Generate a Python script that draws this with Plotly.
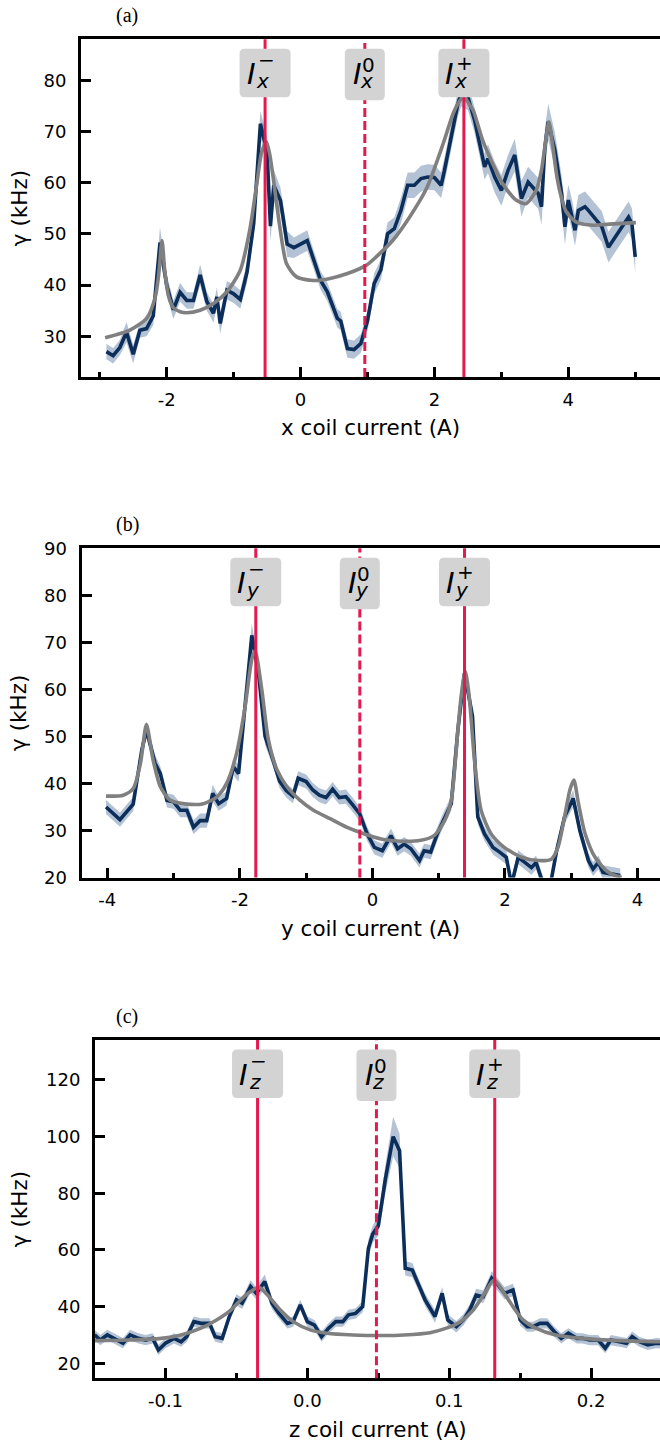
import plotly.graph_objects as go

# ---------------- panel (a): x coil ----------------
xa = [-2.9, -2.8, -2.7, -2.6, -2.5, -2.4, -2.3, -2.2, -2.1, -2.0,
      -1.9, -1.8, -1.7, -1.6, -1.5, -1.4, -1.3, -1.25, -1.2, -1.1,
      -1.0, -0.9, -0.8, -0.7, -0.6, -0.5, -0.45, -0.4, -0.3, -0.2,
      -0.1, 0.0, 0.1, 0.2, 0.3, 0.4, 0.5, 0.55, 0.6, 0.7,
      0.8, 0.9, 1.0, 1.1, 1.2, 1.3, 1.4, 1.5, 1.6, 1.7,
      1.8, 1.9, 2.0, 2.1, 2.15, 2.25, 2.35, 2.4, 2.5, 2.6,
      2.7, 2.75, 2.8, 2.9, 3.0, 3.1, 3.2, 3.25, 3.3, 3.4,
      3.5, 3.55, 3.6, 3.65, 3.7, 3.8, 3.9, 3.95, 4.0, 4.05,
      4.1, 4.15, 4.25, 4.3, 4.4, 4.5, 4.6, 4.7, 4.8, 4.9,
      4.95, 5.0]
ya = [27.0, 26.2, 27.8, 30.8, 26.5, 31.2, 31.5, 34.0, 48.3, 40.0,
      35.2, 38.6, 37.0, 37.0, 42.0, 36.8, 34.5, 37.7, 32.5, 39.0,
      38.3, 37.2, 42.5, 52.0, 71.5, 66.0, 51.5, 59.5, 56.5, 48.0,
      47.3, 48.0, 48.7, 44.8, 40.9, 38.7, 35.1, 33.5, 33.0, 27.6,
      27.4, 28.6, 33.0, 40.3, 43.0, 50.0, 51.0, 54.6, 59.5, 59.5,
      60.8, 61.1, 61.0, 59.5, 62.4, 68.9, 75.4, 77.4, 76.7, 72.2,
      65.7, 63.1, 64.7, 61.1, 58.5, 62.4, 65.4, 61.1, 56.9, 60.1,
      58.5, 57.9, 55.3, 67.0, 71.9, 66.3, 57.9, 51.4, 56.6, 54.0,
      50.7, 54.6, 55.3, 54.6, 53.0, 51.4, 47.4, 49.4, 51.4, 53.3,
      52.0, 45.5]
ea = [1.5, 1.5, 1.5, 2.0, 1.8, 1.5, 1.5, 1.8, 3.0, 2.0,
      1.8, 1.8, 1.6, 1.6, 2.0, 1.8, 1.8, 1.8, 2.0, 1.8,
      1.8, 1.8, 2.0, 2.5, 2.5, 3.0, 3.0, 3.0, 2.5, 2.5,
      2.0, 2.0, 2.0, 1.8, 1.8, 1.8, 1.8, 1.8, 1.8, 1.8,
      1.8, 1.8, 2.0, 2.0, 2.0, 2.2, 2.2, 2.5, 2.5, 2.5,
      2.5, 2.5, 2.5, 2.5, 2.5, 2.5, 2.5, 2.5, 2.5, 2.5,
      2.5, 2.5, 2.8, 3.0, 3.0, 3.0, 3.2, 3.5, 3.5, 3.0,
      3.0, 3.0, 3.5, 3.5, 3.5, 3.5, 3.5, 3.5, 3.0, 3.0,
      3.0, 3.0, 3.0, 3.0, 3.0, 3.0, 3.0, 3.0, 3.0, 3.0,
      3.0, 3.0]
fit_xa = [-2.92, -2.55, -2.30, -2.17, -2.12, -2.07, -2.03, -1.97, -1.90, -1.80,
          -1.70, -1.50, -1.30, -1.10, -0.90, -0.76, -0.66, -0.58, -0.51, -0.46,
          -0.41, -0.31, -0.21, -0.06, 0.19, 0.44, 0.69, 0.985, 1.13, 1.38,
          1.63, 1.88, 2.13, 2.28, 2.36, 2.44, 2.52, 2.58, 2.72, 2.87,
          3.02, 3.22, 3.37, 3.52, 3.60, 3.65, 3.71, 3.77, 3.82, 3.87,
          3.97, 4.12, 4.37, 4.61, 5.01]
fit_ya = [29.7, 31.2, 33.5, 37.7, 42.0, 48.7, 43.0, 37.7, 35.6, 34.8,
          34.6, 35.1, 36.4, 38.7, 42.9, 50.7, 59.2, 66.0, 68.0, 65.5,
          61.1, 51.4, 44.2, 41.6, 40.9, 41.3, 42.2, 43.9, 45.5, 48.75,
          53.3, 58.8, 67.6, 73.5, 75.6, 76.8, 75.3, 74.1, 68.3, 63.7,
          59.8, 56.6, 55.9, 58.5, 62.5, 67.0, 71.9, 67.0, 62.0, 58.5,
          54.3, 52.3, 51.7, 51.9, 52.2]
lines_a = [-0.53, 0.96, 2.44]

# ---------------- panel (b): y coil ----------------
xb = [-4.02, -3.81, -3.61, -3.48, -3.41, -3.28, -3.20, -3.10, -3.0, -2.9,
      -2.8, -2.7, -2.6, -2.5, -2.41, -2.32, -2.2, -2.1, -2.02, -1.92,
      -1.82, -1.72, -1.62, -1.5, -1.4, -1.3, -1.2, -1.12, -1.0, -0.9,
      -0.8, -0.7, -0.6, -0.5, -0.4, -0.3, -0.19, -0.08, 0.03, 0.15,
      0.28, 0.38, 0.48, 0.58, 0.71, 0.78, 0.88, 0.98, 1.09, 1.19,
      1.29, 1.39, 1.51, 1.59, 1.69, 1.82, 1.92, 2.02, 2.10, 2.20,
      2.30, 2.40, 2.47, 2.58, 2.68, 2.78, 2.90, 3.03, 3.13, 3.26,
      3.33, 3.41, 3.48, 3.61, 3.74]
yb = [35.0, 32.3, 35.6, 47.1, 51.4, 44.3, 42.1, 36.4, 36.1, 34.3,
      34.3, 30.7, 32.1, 32.1, 37.9, 35.7, 36.8, 43.6, 42.1, 57.1,
      71.5, 63.6, 50.0, 45.0, 40.5, 38.5, 37.3, 41.1, 40.4, 38.6,
      37.5, 37.0, 38.8, 37.0, 37.2, 35.5, 33.5, 29.3, 26.4, 25.7,
      28.9, 26.1, 27.1, 26.1, 23.6, 25.7, 25.4, 29.3, 32.9, 35.7,
      51.4, 63.5, 54.3, 32.9, 29.3, 26.4, 25.4, 24.3, 18.5, 24.3,
      23.2, 22.1, 23.2, 18.5, 18.0, 25.7, 32.9, 36.8, 30.0, 23.6,
      21.8, 23.2, 21.1, 20.7, 20.4]
eb = [1.5, 1.5, 1.5, 1.8, 1.8, 1.8, 1.5, 1.5, 1.5, 1.5,
      1.5, 1.5, 1.5, 1.5, 1.8, 1.5, 1.5, 1.8, 1.8, 2.0,
      2.5, 2.0, 1.8, 1.5, 1.5, 1.5, 1.5, 1.5, 1.5, 1.5,
      1.5, 1.5, 1.5, 1.5, 1.5, 1.5, 1.5, 1.5, 1.5, 1.5,
      1.5, 1.5, 1.5, 1.5, 1.5, 1.5, 1.5, 1.5, 1.5, 1.5,
      1.8, 2.0, 1.8, 1.5, 1.5, 1.5, 1.5, 1.5, 1.5, 1.5,
      1.5, 1.5, 1.5, 1.5, 1.5, 1.5, 1.5, 1.8, 1.5, 1.5,
      1.5, 1.5, 1.5, 1.5, 1.5]
fit_xb = [-4.02, -3.76, -3.61, -3.50, -3.41, -3.31, -3.20, -3.05, -2.80, -2.55,
          -2.35, -2.20, -2.05, -1.92, -1.82, -1.77, -1.67, -1.57, -1.44, -1.29,
          -1.09, -0.89, -0.64, -0.39, -0.15, 0.13, 0.43, 0.73, 0.93, 1.09,
          1.19, 1.29, 1.34, 1.40, 1.46, 1.54, 1.64, 1.79, 1.99, 2.25,
          2.50, 2.70, 2.80, 2.90, 2.98, 3.04, 3.11, 3.21, 3.36, 3.56,
          3.76]
fit_yb = [37.3, 37.5, 38.9, 44.3, 52.5, 45.0, 39.3, 36.4, 35.6, 35.7,
          37.1, 40.0, 46.4, 56.4, 66.4, 68.2, 60.0, 49.3, 42.9, 39.3,
          36.4, 34.3, 32.5, 30.7, 29.4, 28.2, 27.7, 27.9, 28.9, 32.1,
          36.4, 51.4, 58.6, 63.9, 58.6, 45.0, 34.3, 29.3, 26.4, 24.3,
          23.6, 23.9, 26.4, 32.9, 38.6, 40.7, 35.7, 29.3, 24.3, 21.1,
          20.0]
lines_b = [-1.76, -0.19, 1.39]

# ---------------- panel (c): z coil ----------------
xc = [-0.150, -0.146, -0.141, -0.136, -0.130, -0.125, -0.119, -0.114, -0.109, -0.105,
      -0.100, -0.094, -0.089, -0.085, -0.080, -0.075, -0.069, -0.065, -0.060, -0.055,
      -0.050, -0.046, -0.040, -0.036, -0.030, -0.025, -0.020, -0.014, -0.010, -0.005,
      0.000, 0.005, 0.010, 0.015, 0.020, 0.025, 0.029, 0.034, 0.039, 0.043,
      0.046, 0.050, 0.055, 0.0605, 0.065, 0.069, 0.074, 0.078, 0.083, 0.090,
      0.095, 0.099, 0.105, 0.110, 0.1145, 0.119, 0.124, 0.130, 0.1345, 0.139,
      0.145, 0.150, 0.155, 0.159, 0.164, 0.169, 0.174, 0.179, 0.184, 0.190,
      0.194, 0.199, 0.205, 0.210, 0.214, 0.220, 0.225, 0.229, 0.234, 0.240,
      0.246, 0.250]
yc = [30.0, 28.2, 30.0, 28.8, 27.1, 30.0, 28.8, 28.2, 28.8, 24.7,
      27.1, 28.8, 27.6, 29.4, 34.7, 34.1, 34.1, 29.4, 28.8, 36.5,
      42.4, 41.2, 47.1, 44.7, 48.8, 41.2, 37.6, 34.1, 34.7, 40.6,
      34.7, 33.5, 29.4, 32.4, 34.7, 34.7, 37.1, 37.6, 40.0, 60.5,
      65.5, 68.5, 85.0, 100.0, 95.0, 53.5, 52.9, 48.2, 42.4, 36.5,
      44.7, 35.3, 32.9, 35.3, 38.8, 44.1, 43.5, 50.0, 47.6, 44.7,
      45.9, 35.3, 32.9, 32.9, 34.1, 34.1, 31.2, 28.8, 30.6, 28.8,
      28.8, 28.2, 28.2, 25.3, 28.2, 27.6, 27.1, 29.4, 27.6, 26.5,
      27.1, 27.0]
ec = [1.8, 1.8, 1.8, 1.8, 1.8, 1.8, 1.8, 1.8, 1.8, 1.8,
      1.8, 1.8, 1.8, 1.8, 1.8, 1.8, 1.8, 1.8, 1.8, 1.8,
      2.0, 2.0, 2.2, 2.2, 2.5, 2.0, 1.8, 1.8, 1.8, 1.8,
      1.8, 1.8, 1.8, 1.8, 1.8, 1.8, 1.8, 1.8, 2.0, 3.0,
      3.0, 3.5, 5.0, 7.0, 6.0, 2.5, 2.5, 2.2, 2.2, 2.2,
      2.2, 2.0, 2.0, 2.0, 2.0, 2.2, 2.2, 2.5, 2.2, 2.2,
      2.2, 2.0, 1.8, 1.8, 1.8, 1.8, 1.8, 1.8, 1.8, 1.8,
      1.8, 1.8, 1.8, 1.8, 1.8, 1.8, 1.8, 1.8, 1.8, 1.8,
      1.8, 1.8]
fit_xc = [-0.150, -0.127, -0.103, -0.089, -0.075, -0.064, -0.054, -0.047, -0.040, -0.034,
          -0.026, -0.019, -0.010, 0.002, 0.014, 0.032, 0.054, 0.068, 0.0865, 0.098,
          0.108, 0.117, 0.125, 0.1315, 0.138, 0.145, 0.152, 0.161, 0.175, 0.194,
          0.220, 0.250]
fit_yc = [28.0, 28.2, 28.8, 30.0, 32.4, 35.3, 38.8, 42.4, 45.3, 46.8,
          42.9, 38.8, 34.7, 31.8, 30.6, 30.0, 29.8, 30.0, 30.8, 32.4,
          34.7, 38.8, 44.7, 49.4, 45.3, 40.0, 35.3, 32.4, 30.0, 28.8,
          28.0, 27.6]
lines_c = [-0.0351, 0.0487, 0.1321]

# ticks
xticks_ab = [-4, -2, 0, 2, 4]
xticklabels_ab = ["-4", "-2", "0", "2", "4"]
xminor_ab = [-5, -3, -1, 1, 3, 5]
xticks_c = [-0.1, 0.0, 0.1, 0.2]
xticklabels_c = ["-0.1", "0.0", "0.1", "0.2"]
xminor_c = [-0.15, -0.05, 0.05, 0.15, 0.25]
yticks_a = [30, 40, 50, 60, 70, 80]
yticks_b = [20, 30, 40, 50, 60, 70, 80, 90]
yticks_c = [20, 40, 60, 80, 100, 120]

coil_names = ["x", "y", "z"]
label_kinds = ["−", "0", "+"]
panel_tags = ["(a)", "(b)", "(c)"]
ytitle = "γ (kHz)"

NAVY = "#0c2e5b"
BAND = "#b3c2d4"
GRAY = "#808080"
RED = "#e41a4f"
BOXC = "#d3d3d3"
FONT = "DejaVu Sans"

W, H = 660, 1442
# plot-area geometry in pixels (left, top, bottom)
geo = [(81, 39.3, 377.0), (81.5, 548.3, 877.5), (95, 1040.0, 1378.3)]
xranges = [[-3.28, 5.37], [-4.39, 4.34], [-0.1497, 0.2486]]
yranges = [[22.05, 88.0], [20, 90], [14.7, 134.1]]

fig = go.Figure()

panels = [
    (xa, ya, ea, fit_xa, fit_ya, lines_a, yticks_a, xticks_ab, xticklabels_ab, xminor_ab),
    (xb, yb, eb, fit_xb, fit_yb, lines_b, yticks_b, xticks_ab, xticklabels_ab, xminor_ab),
    (xc, yc, ec, fit_xc, fit_yc, lines_c, yticks_c, xticks_c, xticklabels_c, xminor_c),
]

shapes = []
annotations = []

for i, (px, py, pe, fx, fy, lns, yt, xt, xtl, xmn) in enumerate(panels):
    k = "" if i == 0 else str(i + 1)
    xr, yr = "x" + k, "y" + k
    up = [v + e for v, e in zip(py, pe)]
    lo = [v - e for v, e in zip(py, pe)]
    fig.add_trace(go.Scatter(x=px, y=up, mode="lines", line=dict(width=0, color=BAND),
                             hoverinfo="skip", showlegend=False, xaxis=xr, yaxis=yr))
    fig.add_trace(go.Scatter(x=px, y=lo, mode="lines", line=dict(width=0, color=BAND),
                             fill="tonexty", fillcolor=BAND, hoverinfo="skip",
                             showlegend=False, xaxis=xr, yaxis=yr))
    fig.add_trace(go.Scatter(x=px, y=py, mode="lines", line=dict(width=3.6, color=NAVY),
                             showlegend=False, xaxis=xr, yaxis=yr))
    fig.add_trace(go.Scatter(x=fx, y=fy, mode="lines",
                             line=dict(width=3.6, color=GRAY, shape="spline", smoothing=0.7),
                             showlegend=False, xaxis=xr, yaxis=yr))

    left, top, bot = geo[i]
    xdom = [left / W, 1.0]
    ydom = [1 - bot / H, 1 - top / H]
    common = dict(showline=True, linewidth=3, linecolor="black", showgrid=False,
                  zeroline=False, ticks="inside", ticklen=10, tickwidth=2.5,
                  tickcolor="black", automargin=False,
                  tickfont=dict(family=FONT, size=18, color="black"))
    fig.layout["xaxis" + k] = dict(common, domain=xdom, range=xranges[i], anchor=yr,
                                   mirror=True, tickmode="array", tickvals=xt, ticktext=xtl,
                                   ticklabelstandoff=4,
                                   minor=dict(ticks="inside", ticklen=5, tickwidth=2.5,
                                              tickcolor="black", tickmode="array", tickvals=xmn))
    fig.layout["yaxis" + k] = dict(common, domain=ydom, range=yranges[i], anchor=xr,
                                   mirror=False, tickmode="array", tickvals=yt,
                                   ticktext=[str(v) for v in yt], ticklabelstandoff=8)

    # axis titles
    annotations.append(dict(xref="paper", yref="paper", x=(left + (W - left) / 2) / W,
                            y=1 - (bot + 51) / H, text=coil_names[i] + " coil current (A)",
                            showarrow=False, xanchor="center", yanchor="middle",
                            font=dict(family=FONT, size=21.5, color="black")))
    annotations.append(dict(xref="paper", yref="paper", x=19 / W, y=1 - (top + bot) / 2 / H,
                            text=ytitle, textangle=-90, showarrow=False,
                            xanchor="center", yanchor="middle",
                            font=dict(family=FONT, size=21.5, color="black")))

    for j, v in enumerate(lns):
        kind = label_kinds[j]
        shapes.append(dict(type="line", xref=xr, yref=yr + " domain", x0=v, x1=v, y0=0, y1=1,
                           line=dict(color=RED, width=3, dash="9px,4px" if kind == "0" else "solid"),
                           layer="above"))
    for j, v in enumerate(lns):
        kind = label_kinds[j]
        hw = 20 if kind == "0" else 25.5
        t, b, r = -9.5, (-61 if kind == "0" else -58), 5
        path = (f"M{-hw + r},{t} L{hw - r},{t} Q{hw},{t} {hw},{t - r} "
                f"L{hw},{b + r} Q{hw},{b} {hw - r},{b} L{-hw + r},{b} "
                f"Q{-hw},{b} {-hw},{b + r} L{-hw},{t - r} Q{-hw},{t} {-hw + r},{t} Z")
        shapes.append(dict(type="path", xref=xr, yref=yr + " domain", xsizemode="pixel",
                           ysizemode="pixel", xanchor=v, yanchor=1, path=path,
                           fillcolor=BOXC, line=dict(width=0), layer="above"))
        ix = -7 if kind == "0" else -14
        sx = 4 if kind == "0" else 1
        bx = 2 if kind == "0" else -3
        supy = {"−": -21, "0": -26, "+": -24}[kind]
        annotations.append(dict(xref=xr, yref=yr + " domain", x=v, y=1, xshift=ix, yshift=-35,
                                text="<i>I</i>", showarrow=False, xanchor="center", yanchor="middle",
                                font=dict(family=FONT, size=29, color="black")))
        annotations.append(dict(xref=xr, yref=yr + " domain", x=v, y=1, xshift=sx, yshift=supy,
                                text=kind, showarrow=False, xanchor="center", yanchor="middle",
                                font=dict(family=FONT, size=20, color="black")))
        annotations.append(dict(xref=xr, yref=yr + " domain", x=v, y=1, xshift=bx, yshift=-42,
                                text="<i>" + coil_names[i] + "</i>", showarrow=False,
                                xanchor="center", yanchor="middle",
                                font=dict(family=FONT, size=20, color="black")))
    annotations.append(dict(xref="paper", yref="paper", x=127 / W, y=1 - (top - 24) / H,
                            text=panel_tags[i], showarrow=False, xanchor="center", yanchor="middle",
                            font=dict(family="Liberation Serif", size=20, color="black")))

fig.update_layout(width=W, height=H, margin=dict(l=0, r=0, t=0, b=0),
                  plot_bgcolor="white", paper_bgcolor="white",
                  shapes=shapes, annotations=annotations, showlegend=False)

fig.write_html("out.html", config={"displayModeBar": False},
               post_script="document.body.style.margin='0';document.body.style.overflow='hidden';")
